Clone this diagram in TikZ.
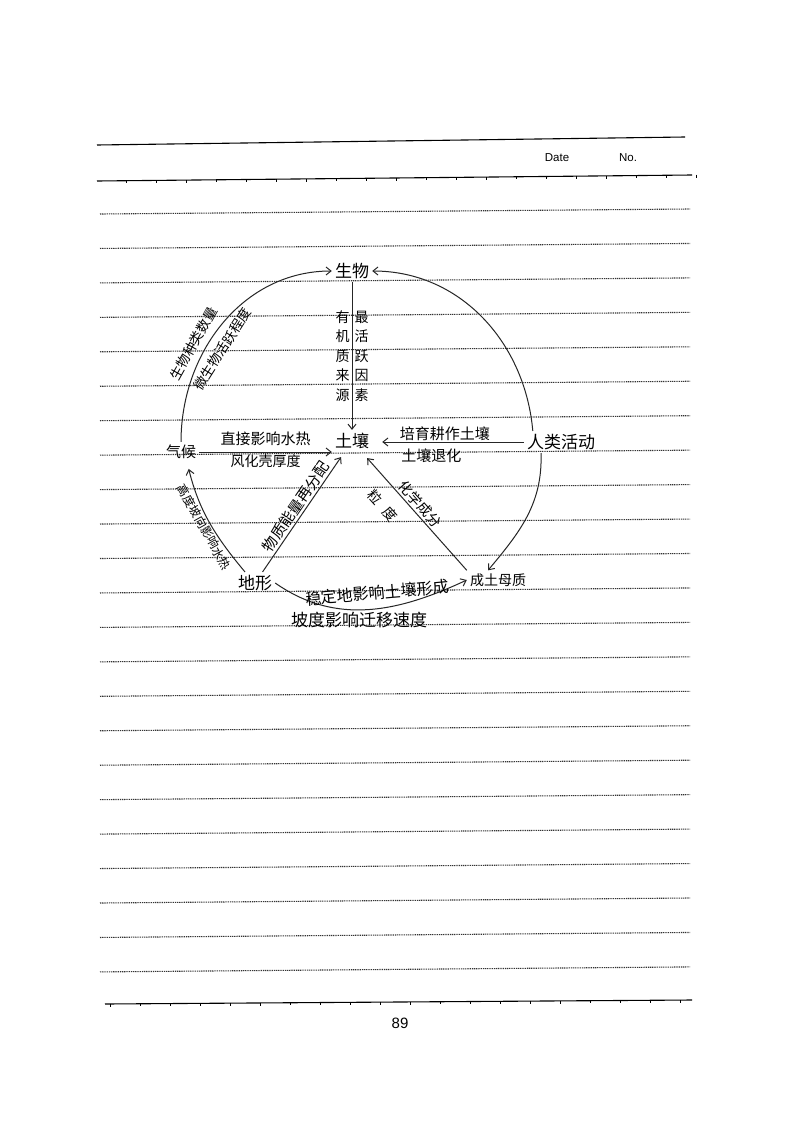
\documentclass[tikz,border=0pt]{standalone}
\usepackage{fontspec}
\usepackage{tikz}
\usetikzlibrary{arrows.meta}
\newfontfamily\handfont{Noto Sans CJK SC}
\newfontfamily\latinfont{Liberation Sans}
\tikzset {
	factor/.style={inner sep=3pt, font=\handfont\fontsize{17}{17}\selectfont},
	note/.style={inner sep=2pt, font=\handfont\fontsize{15}{15}\selectfont},
	column/.style={note, align=center, font=\handfont\fontsize{14}{19.5}\selectfont},
	header/.style={inner sep=0pt, font=\latinfont\fontsize{11.5}{11.5}\selectfont},
	link/.style={draw=black!85, line width=1pt, -{Straight Barb[length=5pt,width=8pt]}},
	rule/.style={line width=1.1pt},
	dotrule/.style={line width=1.1pt, black!80, dash pattern=on 1.3pt off 0.9pt}
}
\begin{document}
\begin{tikzpicture}[x=1pt, y=1pt]
	\useasboundingbox[fill=white] (0,0) rectangle (800,-1132);
	\draw[rule] (97,-145) -- (685,-137);
	\draw[rule] (97,-181) -- (692,-175);
	\draw[rule] (105,-1004) -- (692,-1000);
	\foreach \x in {100,130,...,670} {
		\draw[line width=0.6pt] (\x+26,{-180.7+0.0101*(\x-71)}) -- ++(0,-3);
		\draw[line width=0.6pt] (\x+10,{-1003.7+0.0068*(\x-95)}) -- ++(0,-3);
	}
	\foreach \k in {0,...,22}
		\draw[dotrule] (100,{-214-34.45*\k}) -- (690,{-209-34.45*\k});
	\node[header] (date) at (557,-158) {Date};
	\node[header] (no) at (628,-158) {No.};
	\node[header, font=\latinfont\fontsize{15}{15}\selectfont] (page) at (400,-1023) {89};

	\node[factor] (bio) at (352,-271) {生物};
	\node[factor] (soil) at (352,-441) {土壤};
	\node[factor, font=\handfont\fontsize{15}{15}\selectfont] (climate) at (181,-452) {气候};
	\node[factor] (human) at (561,-442) {人类活动};
	\node[factor] (terrain) at (255,-583) {地形};
	\node[factor, font=\handfont\fontsize{14}{14}\selectfont] (parent) at (498,-580) {成土母质};

	\draw[link] (bio) -- (soil)
		node[column, midway, left] {有\\机\\质\\来\\源}
		node[column, midway, right] {最\\活\\跃\\因\\素};
	\draw[link] (climate.north) to[out=90, in=180]
		node[note, sloped, pos=0.37, above=4pt, font=\handfont\fontsize{13.5}{13.5}\selectfont] {生物种类数量}
		node[note, sloped, pos=0.41, below=6pt, font=\handfont\fontsize{13.5}{13.5}\selectfont] {微生物活跃程度} (bio.west);
	\draw[link] ([xshift=9pt]human.north west) to[out=95, in=0] (bio.east);
	\draw[link] (climate.east) -- (climate.east -| soil.west)
		node[note, midway, above=4pt] {直接影响水热}
		node[note, midway, below, font=\handfont\fontsize{14}{14}\selectfont] {风化壳厚度};
	\draw[link, shorten >=10pt] (human.west) -- (human.west -| soil.east)
		node[note, pos=0.52, above=-1pt] {培育耕作土壤}
		node[note, pos=0.61, below=4pt] {土壤退化};
	\draw[link] ([xshift=-20pt]human.south) to[out=-88, in=50] ([xshift=-10pt]parent.north);
	\draw[link, shorten >=7pt] ([xshift=-10pt]terrain.north) to[out=130, in=-76]
		node[note, sloped, pos=0.47, below=-1pt, font=\handfont\fontsize{12}{12}\selectfont] {高度坡向影响水热} ([xshift=6pt]climate.south);
	\draw[link, shorten >=6pt] (terrain) -- (soil)
		node[note, sloped, midway, above] {物质能量再分配};
	\draw[link, shorten >=8pt] (parent.north west) -- (soil)
		node[note, sloped, pos=0.51, above, font=\handfont\fontsize{14}{14}\selectfont] {化学成分}
		node[note, sloped, pos=0.66, below=11pt, font=\handfont\fontsize{14}{14}\selectfont] {粒\hspace{9pt}度};
	\draw[link] (terrain.east) to[out=-35, in=205]
		node[note, pos=0.55, above=6pt, rotate=5, font=\handfont\fontsize{16}{16}\selectfont] {稳定地影响土壤形成}
		node[note, pos=0.45, below, font=\handfont\fontsize{17}{17}\selectfont] {坡度影响迁移速度} (parent.west);
\end{tikzpicture}
\end{document}
